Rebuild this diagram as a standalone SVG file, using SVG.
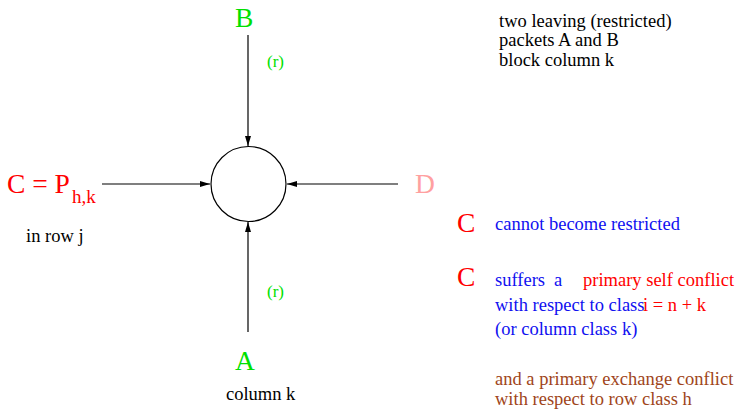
<svg xmlns="http://www.w3.org/2000/svg" width="737" height="409" viewBox="0 0 737 409">
<defs>
<marker id="ah" viewBox="0 0 10 6" refX="10" refY="3" markerWidth="10" markerHeight="6" markerUnits="userSpaceOnUse" orient="auto">
<path d="M0,0 L10,3 L0,6 z" fill="#000"/>
</marker>
<style>
text{font-family:"Liberation Serif","Times New Roman",serif}
.big{font-size:27.5px}
.sm{font-size:18.5px}
.sub{font-size:19px}
.r{font-size:17px;fill:#00e000}
.green{fill:#00e000}
.red{fill:#ff0000}
.blue{fill:#1010f0}
.brown{fill:#a0451a}
.blk{fill:#000}
.edge{stroke:#000;stroke-width:1.2;fill:none;marker-end:url(#ah)}
</style>
</defs>
<g id="connectors">
<line class="edge" x1="248" y1="35" x2="248" y2="146"/>
<line class="edge" x1="102" y1="184" x2="210" y2="184"/>
<line class="edge" x1="398" y1="184" x2="287" y2="184"/>
<line class="edge" x1="248" y1="332" x2="248" y2="222"/>
</g>
<g id="node-center"><circle cx="248.5" cy="184" r="37.5" fill="#fff" stroke="#000" stroke-width="1.2"/></g>
<g id="node-B"><text x="235" y="27" class="big green">B</text><text x="267" y="67" class="r">(r)</text></g>
<g id="node-C"><text x="7" y="193" class="big red">C = P</text><text x="72" y="203" class="sub red">h,k</text><text x="26" y="242" class="sm blk">in row j</text></g>
<g id="node-D"><text x="415" y="193" class="big" fill="#ffa0a0">D</text></g>
<g id="node-A"><text x="235" y="370" class="big green">A</text><text x="267" y="297" class="r">(r)</text><text x="226" y="400" class="sm blk">column k</text></g>
<g id="notes">
<text x="499" y="27" class="sm blk">two leaving (restricted)</text>
<text x="499" y="46" class="sm blk">packets A and B</text>
<text x="499" y="66" class="sm blk">block column k</text>
<text x="457" y="232" class="big red">C</text>
<text x="495" y="230" class="sm blue">cannot become restricted</text>
<text x="457" y="286" class="big red">C</text>
<text x="495" y="286" class="sm blue">suffers</text>
<text x="554" y="286" class="sm blue">a</text>
<text x="583" y="286" class="sm red">primary self conflict</text>
<text x="495" y="311" class="sm blue">with respect to class</text>
<text x="643" y="311" class="sm red">i = n + k</text>
<text x="495" y="335" class="sm blue">(or column class k)</text>
<text x="495" y="385" class="sm brown">and a primary exchange conflict</text>
<text x="495" y="405" class="sm brown">with respect to row class h</text>
</g>
</svg>
